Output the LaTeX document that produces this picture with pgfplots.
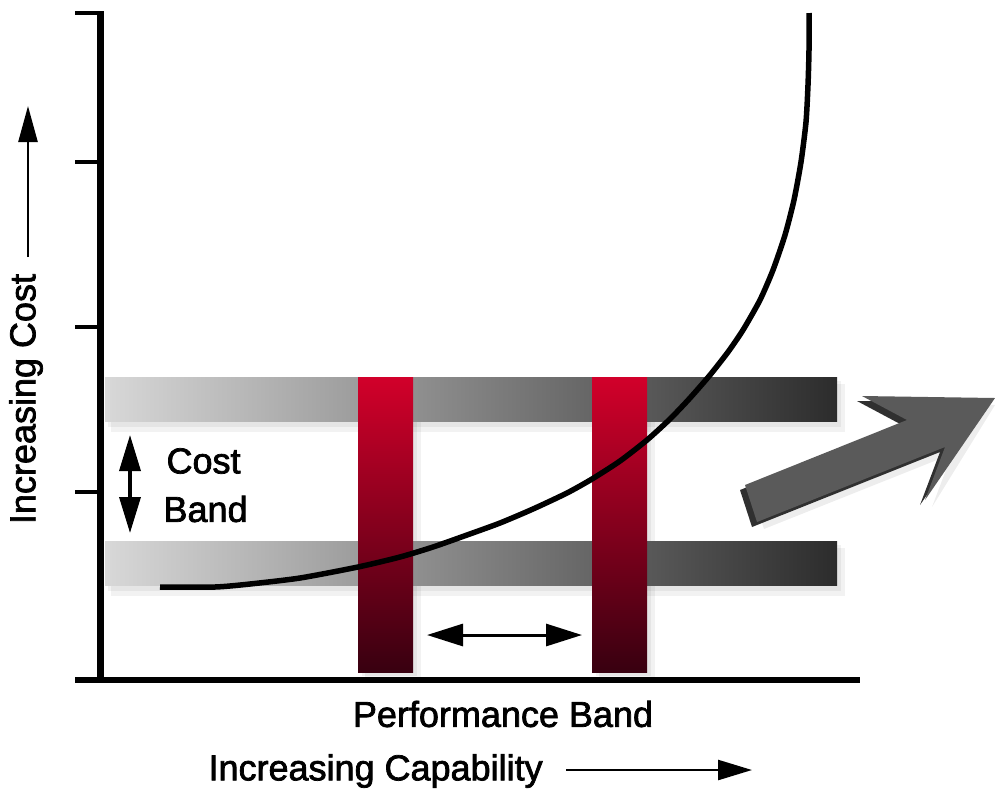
\documentclass[border=0pt]{standalone}
\usepackage{pgfplots}
\pgfplotsset{compat=1.18}
\usepackage{fontspec}
\setmainfont{Liberation Sans}
\newfontfamily\heavy[FakeBold=2]{Liberation Sans}
\usetikzlibrary{arrows.meta}

\definecolor{barlight}{RGB}{216,216,216}
\definecolor{bardark}{RGB}{44,44,44}
\definecolor{redtop}{RGB}{210,0,42}
\definecolor{redbot}{RGB}{56,0,16}
\definecolor{arrface}{RGB}{90,90,90}
\definecolor{arrside}{RGB}{48,48,48}

\begin{document}
\begin{tikzpicture}
\begin{axis}[
    scale only axis,
    width=995pt, height=785pt,
    xmin=0, xmax=995, ymin=0, ymax=785,
    y dir=reverse,
    hide axis,
    clip=false,
]
% background (keeps the page the size of the reference)
\addplot[fill=white, draw=none] coordinates {(0,0) (995,0) (995,785) (0,785)};

% soft shadows of the bands
\addplot[fill=black, opacity=0.05, draw=none] coordinates {(108,381) (841,381) (841,427) (108,427)};
\addplot[fill=black, opacity=0.05, draw=none] coordinates {(111,384) (845,384) (845,432) (111,432)};
\addplot[fill=black, opacity=0.05, draw=none] coordinates {(108,545) (841,545) (841,591) (108,591)};
\addplot[fill=black, opacity=0.05, draw=none] coordinates {(111,548) (845,548) (845,596) (111,596)};
\addplot[fill=black, opacity=0.05, draw=none] coordinates {(362,381) (417,381) (417,676) (362,676)};
\addplot[fill=black, opacity=0.05, draw=none] coordinates {(365,384) (421,384) (421,679) (365,679)};
\addplot[fill=black, opacity=0.05, draw=none] coordinates {(596,381) (651,381) (651,676) (596,676)};
\addplot[fill=black, opacity=0.05, draw=none] coordinates {(599,384) (655,384) (655,679) (599,679)};

% cost bands
\addplot[draw=none, left color=barlight, right color=bardark] coordinates {(105,377) (837,377) (837,421) (105,421)};
\addplot[draw=none, left color=barlight, right color=bardark] coordinates {(105,541) (837,541) (837,585) (105,585)};

% performance bands
\addplot[draw=none, top color=redtop, bottom color=redbot] coordinates {(358,377) (413,377) (413,672) (358,672)};
\addplot[draw=none, top color=redtop, bottom color=redbot] coordinates {(592,377) (647,377) (647,672) (592,672)};

% axes
\addplot[black, line width=7pt] coordinates {(100,11) (100,683)};
\addplot[black, line width=6pt] coordinates {(75,680) (860,680)};
\addplot[black, line width=4pt] coordinates {(75,13) (100,13)};
\addplot[black, line width=4pt] coordinates {(75,162) (100,162)};
\addplot[black, line width=4pt] coordinates {(75,327) (100,327)};
\addplot[black, line width=4pt] coordinates {(75,492) (100,492)};

% cost curve
\addplot[black, line width=5.5pt, smooth, tension=0.4] coordinates {
    (160,587) (215,587) (250,584) (300,578) (358,567) (400,557) (433,547)
    (467,535) (500,523) (533,509) (567,493) (592,479) (620,461) (647,440)
    (670,419) (690,398) (710,375) (728,352) (743,330) (760,300) (773,270)
    (785,235) (794,200) (801,162) (806,122) (808,85) (809,50) (809,13)
};

% band arrows
\addplot[black, line width=3.5pt, {Triangle[length=36pt,width=21pt]}-{Triangle[length=36pt,width=21pt]}]
    coordinates {(130,435) (130,533)};
\addplot[black, line width=3pt, {Triangle[length=36pt,width=22pt]}-{Triangle[length=36pt,width=22pt]}]
    coordinates {(427,635) (582,635)};

% axis title arrows
\addplot[black, line width=2.5pt, -{Triangle[length=36pt,width=19pt]}]
    coordinates {(28,257) (28,106)};
\addplot[black, line width=2.5pt, -{Triangle[length=34pt,width=20pt]}]
    coordinates {(566,770) (752,770)};

% 3D arrow
\addplot[fill=black, opacity=0.07, draw=none] coordinates {
    (752,492) (914,427) (869,403) (995,405) (932,507) (952,454) (764,529)};
\addplot[fill=arrside, draw=none] coordinates {
    (740,490) (902,425) (857,401) (990,403) (920,505) (940,452) (752,527)};
\addplot[fill=arrface, draw=none] coordinates {
    (745,485) (907,420) (862,396) (995,398) (925,500) (945,447) (757,522)};

% texts
\node[anchor=west, font=\heavy\fontsize{36}{42}\selectfont] at (axis cs:163,461) {Cost};
\node[anchor=west, font=\heavy\fontsize{36}{42}\selectfont] at (axis cs:160,509) {Band};
\node[font=\heavy\fontsize{36}{42}\selectfont] at (axis cs:503,714) {Performance Band};
\node[anchor=west, font=\heavy\fontsize{36}{42}\selectfont] at (axis cs:205,771) {Increasing Capability};
\node[rotate=90, font=\heavy\fontsize{36}{42}\selectfont] at (axis cs:26,399) {Increasing Cost};
\end{axis}
\end{tikzpicture}
\end{document}
